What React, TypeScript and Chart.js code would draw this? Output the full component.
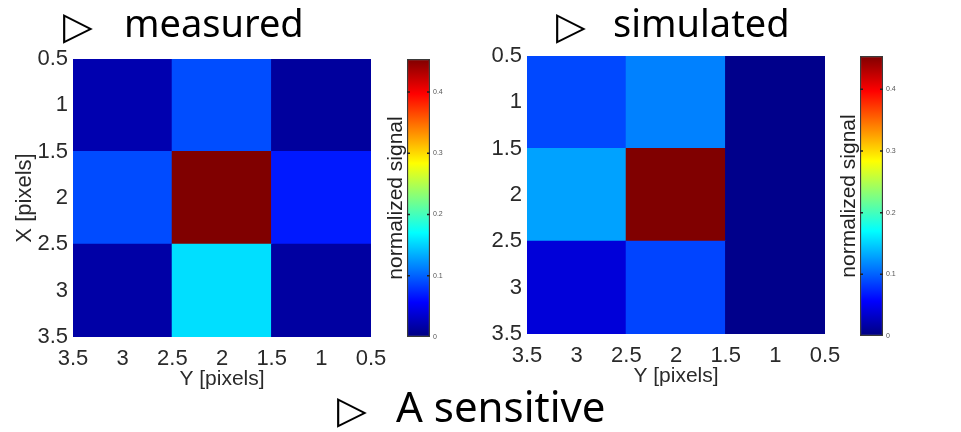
import React, { useEffect, useRef } from "react";
import { Chart, registerables } from "chart.js";

Chart.register(...registerables);

// ---------- data ----------
const yPixelColumns = [3, 2, 1]; // column centres, left -> right (Y [pixels], reversed axis)
const xPixelRows = [1, 2, 3]; // row centres, top -> bottom (X [pixels], reversed axis)
const axisTickValues = [0.5, 1, 1.5, 2, 2.5, 3, 3.5];

const measuredRow1 = [0.021, 0.091, 0.013];
const measuredRow2 = [0.09, 0.454, 0.068];
const measuredRow3 = [0.017, 0.156, 0.015];

const simulatedRow1 = [0.089, 0.114, 0.005];
const simulatedRow2 = [0.129, 0.454, 0.005];
const simulatedRow3 = [0.04, 0.087, 0.005];

const colorbarTicks = [0, 0.1, 0.2, 0.3, 0.4];
const signalMax = 0.454;

const FONT = '"Liberation Sans", Arial, Helvetica, sans-serif';
Chart.defaults.font.family = FONT;

function clamp01(v: number) {
  return Math.max(0, Math.min(1, v));
}
function jet(v: number) {
  const t = clamp01(v / signalMax);
  const r = clamp01(1.5 - Math.abs(4 * t - 3));
  const g = clamp01(1.5 - Math.abs(4 * t - 2));
  const b = clamp01(1.5 - Math.abs(4 * t - 1));
  return `rgb(${Math.round(r * 255)},${Math.round(g * 255)},${Math.round(b * 255)})`;
}

const fmt = (v: any) => String(Number(Number(v).toFixed(2)));

type HeatProps = {
  rows: number[][];
  left: number;
  top: number;
  showYTitle: boolean;
};

function Heatmap({ rows, left, top, showYTitle }: HeatProps) {
  const ref = useRef<HTMLCanvasElement | null>(null);
  useEffect(() => {
    if (!ref.current) return;
    const points: any[] = [];
    const colors: string[] = [];
    rows.forEach((row, r) =>
      row.forEach((v, c) => {
        points.push({ x: yPixelColumns[c], y: [xPixelRows[r] - 0.5, xPixelRows[r] + 0.5] });
        colors.push(jet(v));
      })
    );
    const tickFont = { family: FONT, size: 22 };
    const titleFont = { family: FONT, size: 21 };
    const chart = new Chart(ref.current, {
      type: "bar",
      data: {
        datasets: [
          {
            data: points,
            backgroundColor: colors,
            borderWidth: 0,
            inflateAmount: 0.6,
            // tick spacing is half a cell, so a full cell spans two tick steps
            barPercentage: 2,
            categoryPercentage: 1,
          } as any,
        ],
      },
      options: {
        animation: false,
        responsive: true,
        maintainAspectRatio: false,
        events: [],
        layout: { padding: { top: 19, right: 29, bottom: 0, left: 0 } },
        plugins: { legend: { display: false }, tooltip: { enabled: false } },
        scales: {
          x: {
            type: "linear",
            min: 0.5,
            max: 3.5,
            reverse: true,
            offset: false,
            afterBuildTicks: (s: any) => {
              s.ticks = axisTickValues.map((v) => ({ value: v }));
            },
            afterFit: (s: any) => {
              s.height = 63;
            },
            ticks: {
              callback: fmt,
              font: tickFont,
              color: "#2a2a2a",
              padding: 9,
              maxRotation: 0,
              autoSkip: false,
            },
            grid: { display: false, drawTicks: false },
            border: { display: false },
            title: {
              display: true,
              text: "Y [pixels]",
              font: titleFont,
              color: "#2a2a2a",
              padding: { top: 0, bottom: 8 },
            },
          } as any,
          y: {
            type: "linear",
            min: 0.5,
            max: 3.5,
            reverse: true,
            afterBuildTicks: (s: any) => {
              s.ticks = axisTickValues.map((v) => ({ value: v }));
            },
            afterFit: (s: any) => {
              s.width = 73;
            },
            ticks: {
              callback: fmt,
              font: tickFont,
              color: "#2a2a2a",
              padding: 5,
              autoSkip: false,
            },
            grid: { display: false, drawTicks: false },
            border: { display: false },
            title: {
              display: showYTitle,
              text: "X [pixels]",
              font: { family: FONT, size: 22 },
              color: "#2a2a2a",
              padding: { top: 12, bottom: 0 },
            },
          } as any,
        },
      },
    });
    return () => chart.destroy();
  }, []);
  return (
    <div style={{ position: "absolute", left, top, width: 400, height: 360 }}>
      <canvas ref={ref} />
    </div>
  );
}

const colorbarTickMarks = {
  id: "cbTickMarks",
  afterDatasetsDraw(chart: any) {
    const { ctx, chartArea } = chart;
    const y = chart.scales.y;
    ctx.save();
    ctx.strokeStyle = "#222";
    ctx.lineWidth = 1.5;
    colorbarTicks.forEach((v) => {
      if (v <= 0) return;
      const py = y.getPixelForValue(v);
      ctx.beginPath();
      ctx.moveTo(chartArea.left, py);
      ctx.lineTo(chartArea.left + 3, py);
      ctx.moveTo(chartArea.right, py);
      ctx.lineTo(chartArea.right - 3, py);
      ctx.stroke();
    });
    ctx.restore();
  },
};

function Colorbar({ left, top, height }: { left: number; top: number; height: number }) {
  const ref = useRef<HTMLCanvasElement | null>(null);
  useEffect(() => {
    if (!ref.current) return;
    const chart = new Chart(ref.current, {
      type: "bar",
      data: {
        labels: [""],
        datasets: [
          {
            data: [[0, signalMax]],
            backgroundColor: (c: any) => {
              const ch = c.chart;
              if (!ch.chartArea || !ch.scales.y) return jet(0);
              const y0 = ch.scales.y.getPixelForValue(0);
              const y1 = ch.scales.y.getPixelForValue(signalMax);
              const g = ch.ctx.createLinearGradient(0, y0, 0, y1);
              const n = 64;
              for (let i = 0; i <= n; i++) g.addColorStop(i / n, jet((i / n) * signalMax));
              return g;
            },
            borderColor: "#3a3a3a",
            borderWidth: 1.5,
            borderSkipped: false,
            barPercentage: 1,
            categoryPercentage: 1,
          } as any,
        ],
      },
      options: {
        animation: false,
        responsive: true,
        maintainAspectRatio: false,
        events: [],
        layout: { padding: { top: 19, right: 0, bottom: 23, left: 0 } },
        plugins: { legend: { display: false }, tooltip: { enabled: false } },
        scales: {
          x: { display: false },
          y: {
            position: "right",
            min: 0,
            max: signalMax,
            afterBuildTicks: (s: any) => {
              s.ticks = colorbarTicks.map((v) => ({ value: v }));
            },
            afterFit: (s: any) => {
              s.width = 30;
            },
            ticks: { callback: fmt, font: { family: FONT, size: 7 }, color: "#555", padding: 3 },
            grid: { display: false, drawTicks: false },
            border: { display: false },
          } as any,
          y2: {
            position: "left",
            min: 0,
            max: signalMax,
            afterFit: (s: any) => {
              s.width = 27;
            },
            ticks: { display: false },
            grid: { display: false, drawTicks: false },
            border: { display: false },
            title: {
              display: true,
              text: "normalized signal",
              font: { family: FONT, size: 21 },
              color: "#222",
              padding: { top: 4, bottom: 0 },
            },
          } as any,
        },
      },
      plugins: [colorbarTickMarks],
    });
    return () => chart.destroy();
  }, []);
  return (
    <div style={{ position: "absolute", left, top, width: 80, height }}>
      <canvas ref={ref} />
    </div>
  );
}

const slideFont = '"Noto Sans", "Open Sans", sans-serif';
const triFont = '"DejaVu Sans", sans-serif';

function Bullet({
  x,
  tx,
  top,
  text,
  size,
}: {
  x: number;
  tx: number;
  top: number;
  text: string;
  size: number;
}) {
  return (
    <>
      <span
        style={{
          position: "absolute",
          left: x,
          top: top + 3,
          fontFamily: triFont,
          fontSize: 39,
          lineHeight: "39px",
          color: "#000",
          whiteSpace: "nowrap",
        }}
      >
        ▷
      </span>
      <span
        style={{
          position: "absolute",
          left: tx,
          top: top,
          fontFamily: slideFont,
          fontSize: size,
          lineHeight: "38px",
          color: "#000",
          whiteSpace: "nowrap",
        }}
      >
        {text}
      </span>
    </>
  );
}

export default function App() {
  const measured = [measuredRow1, measuredRow2, measuredRow3];
  const simulated = [simulatedRow1, simulatedRow2, simulatedRow3];
  return (
    <div
      style={{
        position: "absolute",
        left: 0,
        top: 0,
        width: 961,
        height: 432,
        overflow: "hidden",
        background: "#fff",
      }}
    >
      <Heatmap rows={measured} left={0} top={40} showYTitle={true} />
      <Colorbar left={380} top={40} height={320} />
      <Heatmap rows={simulated} left={454} top={37} showYTitle={false} />
      <Colorbar left={833} top={37} height={322} />
      <Bullet x={63} tx={124} top={3} size={38} text="measured" />
      <Bullet x={556} tx={613} top={3} size={38} text="simulated" />
      <Bullet x={337} tx={396} top={387} size={42} text="A sensitive" />
    </div>
  );
}
